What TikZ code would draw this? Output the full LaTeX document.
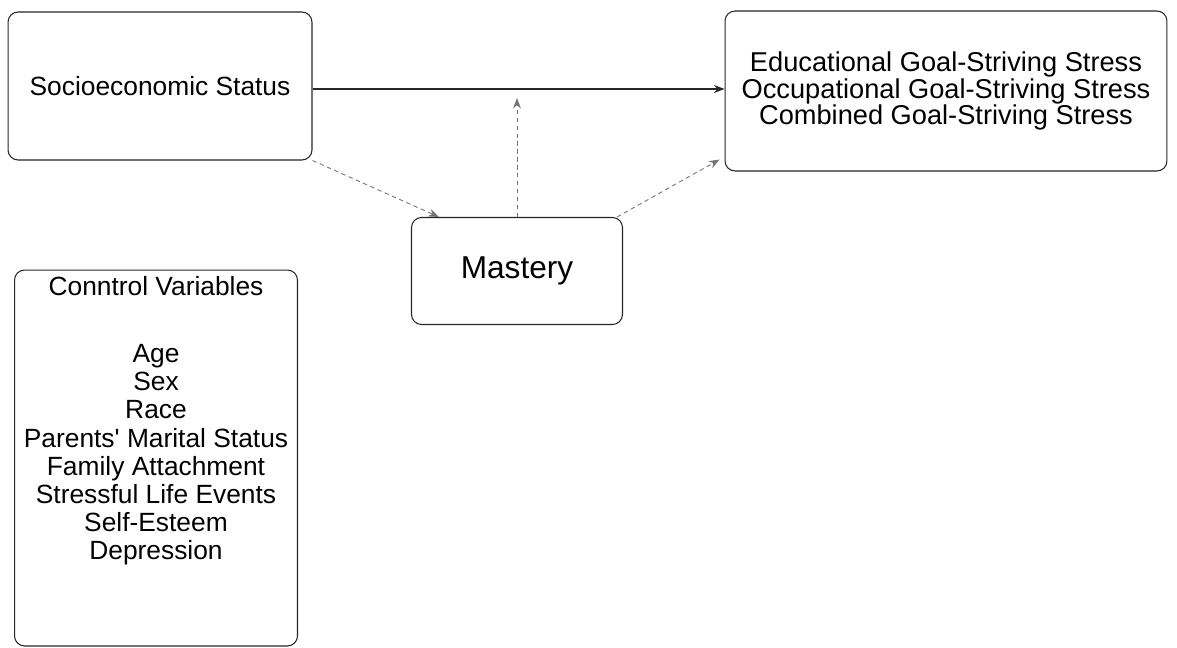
\documentclass[tikz,border=0pt]{standalone}
\usepackage{fontspec}
\setmainfont{Liberation Sans}
\usetikzlibrary{positioning,calc,arrows.meta}

\tikzset{
	varbox/.style={draw=black!85,line width=0.6pt,rounded corners=0.2cm,inner sep=0pt},
	varfont/.style={font=\fontsize{15}{16}\selectfont},
	medpath/.style={-{Stealth[length=6pt,width=4.5pt]},draw=black!55,line width=0.5pt,dash pattern=on 2.5pt off 2pt},
}

\begin{document}
\begin{tikzpicture}[x=0.02cm,y=-0.02cm]
	\useasboundingbox (0,0) rectangle (1177,647);
	
	\node[varbox,varfont,minimum width=6.08cm,minimum height=2.96cm] (ses) at (160,86) {Socioeconomic Status};
	
	\node[varbox,minimum width=8.84cm,minimum height=3.2cm,align=center,font=\fontsize{15.5}{15.3}\selectfont] (goals) at (946,91) {Educational Goal-Striving Stress\\Occupational Goal-Striving Stress\\Combined Goal-Striving Stress};
	
	\node[varbox,minimum width=4.22cm,minimum height=2.14cm,font=\fontsize{18}{20}\selectfont] (mastery) at (517,271) {Mastery};
	
	\node[varbox,minimum width=5.66cm,minimum height=7.52cm] (ctrl) at (156,458) {};
	\node[varfont,anchor=north,align=center,inner sep=0.14cm] (ctrltext) at (ctrl.north) {Conntrol Variables\\[22pt]Age\\Sex\\Race\\Parents\textquotesingle\ Marital Status\\Family Attachment\\Stressful Life Events\\Self-Esteem\\Depression};
	
	\coordinate (mod) at (517,98);
	
	% direct effect
	\draw[-{Stealth[length=6pt,width=4.5pt]},black!85,line width=0.6pt] ([yshift=-0.06cm]ses.east)--([yshift=-0.06cm]ses.east -| goals.west);
	% mediation
	\draw[medpath] (ses.south east)--([xshift=0.56cm]mastery.north west);
	\draw[medpath] ([xshift=-0.12cm]mastery.north east)--([yshift=0.24cm,xshift=-0.1cm]goals.south west);
	% moderation
	\draw[medpath] (mastery.north)--(mod);
\end{tikzpicture}
\end{document}
